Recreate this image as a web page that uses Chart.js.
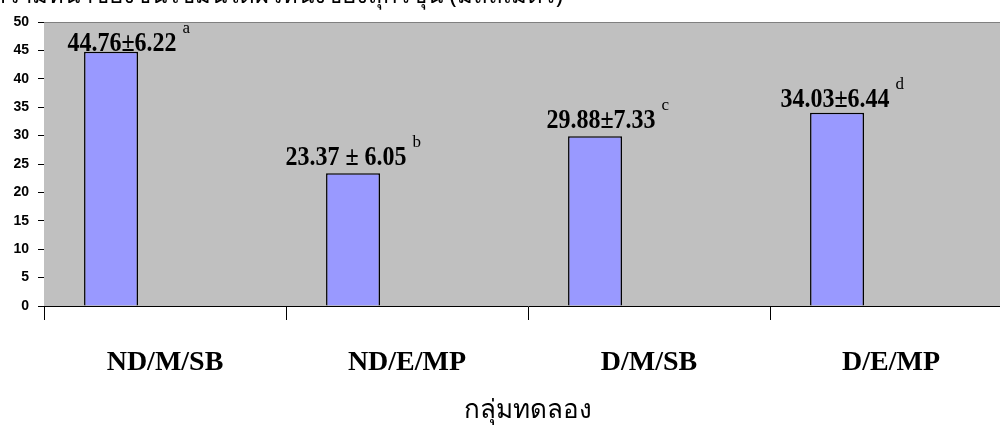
<!DOCTYPE html>
<html>
<head>
<meta charset="utf-8">
<script src="https://cdn.jsdelivr.net/npm/chart.js@4.4.1/dist/chart.umd.min.js"></script>
<style>
    body { margin: 0; background: #fff; overflow: hidden; }
    #wrap { width: 1020px; height: 436px; }
</style>
</head>
<body>
<div id="wrap"><canvas id="barChart"></canvas></div>
<script>
// Chart data
const groups = ['ND/M/SB', 'ND/E/MP', 'D/M/SB', 'D/E/MP']; // Category names
const means = [44.76, 23.37, 29.88, 34.03]; // Bar heights
const valueLabels = ['44.76±6.22', '23.37 ± 6.05', '29.88±7.33', '34.03±6.44']; // Mean ± SD text
const letters = ['a', 'b', 'c', 'd']; // Significance letters
const emptySeries = [null, null, null, null]; // Unused series that still take a bar slot
const yTicks = [0, 5, 10, 15, 20, 25, 30, 35, 40, 45, 50]; // Y axis tick values
const chartTitle = 'ค่าเฉลี่ยความหนาของชั้นไขมันใต้ผิวหนังของสุกรขุน (มิลลิเมตร)'; // Title (cut off at the top)
const xTitle = 'กลุ่มทดลอง';

// Small nudges so the value labels sit where they were placed by hand
const labelNudge = [{ dx: 11, gap: 1 }, { dx: -7, gap: 8 }, { dx: 6, gap: 8 }, { dx: -2, gap: 6 }];

// Plugin: grey plot area, cut title and value labels
const decorPlugin = {
    id: 'decor',
    beforeDatasetsDraw(chart) {
        const { ctx, chartArea: a } = chart;
        ctx.save();
        ctx.fillStyle = '#c0c0c0';
        ctx.fillRect(a.left, a.top, a.right - a.left, a.bottom - a.top);
        ctx.strokeStyle = '#808080';
        ctx.lineWidth = 1;
        ctx.beginPath();
        ctx.moveTo(a.left, a.top + 0.5);
        ctx.lineTo(a.right, a.top + 0.5);
        ctx.stroke();
        ctx.restore();
    },
    afterDatasetsDraw(chart) {
        const { ctx } = chart;
        const bars = chart.getDatasetMeta(0).data;
        ctx.save();
        ctx.fillStyle = '#000';
        bars.forEach((bar, i) => {
            let n = labelNudge[i];
            let cx = bar.x + n.dx;
            let by = bar.y - n.gap;
            ctx.font = 'bold 24px "Liberation Serif", serif';
            let w = ctx.measureText(valueLabels[i]).width;
            ctx.save();
            ctx.translate(cx, by);
            ctx.scale(1, 1.12); // the original text is a bit taller than wide
            ctx.textAlign = 'center';
            ctx.textBaseline = 'alphabetic';
            ctx.fillText(valueLabels[i], 0, 0);
            ctx.restore();
            ctx.font = '17px "Liberation Serif", serif';
            ctx.textAlign = 'left';
            ctx.fillText(letters[i], cx + w / 2 + 6, by - 18);
        });
        // title, mostly above the top edge
        ctx.font = '24px "Noto Sans", sans-serif';
        ctx.textAlign = 'right';
        ctx.fillText(chartTitle, 563, 3);
        ctx.restore();
    }
};

new Chart(document.getElementById('barChart'), {
    type: 'bar',
    data: {
        labels: groups,
        datasets: [
            { data: means, backgroundColor: '#9999ff', borderColor: '#000', borderWidth: 1.5 },
            { data: emptySeries },
            { data: emptySeries }
        ]
    },
    options: {
        responsive: true,
        maintainAspectRatio: false,
        animation: false,
        categoryPercentage: 0.669,
        barPercentage: 1,
        layout: { padding: { top: 22, right: 8, left: 0, bottom: 0 } },
        plugins: { legend: { display: false }, tooltip: { enabled: false } },
        scales: {
            y: {
                min: 0,
                max: 50,
                afterFit: s => { s.width = 44; },
                afterBuildTicks: s => { s.ticks = yTicks.map(v => ({ value: v })); },
                grid: { drawOnChartArea: false, color: '#000', tickLength: 6 },
                border: { color: '#000', width: 1 },
                ticks: {
                    padding: 9,
                    color: '#000',
                    font: { family: 'Liberation Sans', size: 14, weight: 'bold' }
                }
            },
            x: {
                afterFit: s => { s.height = 130; },
                grid: { drawOnChartArea: false, color: '#000', tickLength: 14, offset: true },
                border: { color: '#000', width: 1 },
                ticks: {
                    padding: 26,
                    color: '#000',
                    font: { family: 'Liberation Serif', size: 28, weight: 'bold' }
                },
                title: {
                    display: true,
                    text: xTitle,
                    color: '#000',
                    padding: { top: 0, bottom: 10 },
                    font: { family: 'Noto Sans', size: 26 }
                }
            }
        }
    },
    plugins: [decorPlugin]
});
</script>
</body>
</html>
